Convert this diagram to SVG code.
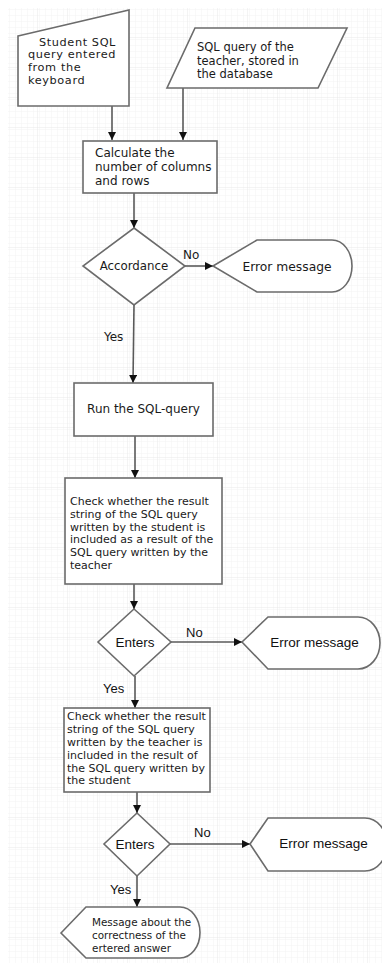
<svg xmlns="http://www.w3.org/2000/svg" width="382" height="963" viewBox="0 0 382 963">
  <defs>
    <pattern id="minor" width="6" height="6" patternUnits="userSpaceOnUse" x="8" y="8">
      <path d="M6 0V6M0 6H6" fill="none" stroke="#f3f3f3" stroke-width="1"/>
    </pattern>
    <pattern id="major" width="30" height="30" patternUnits="userSpaceOnUse" x="8" y="8">
      <rect width="30" height="30" fill="url(#minor)"/>
      <path d="M30 0V30M0 30H30" fill="none" stroke="#e9e9e9" stroke-width="1"/>
    </pattern>
    <marker id="arrow" viewBox="0 0 8 8" refX="8" refY="4" markerWidth="8" markerHeight="8" markerUnits="userSpaceOnUse" orient="auto">
      <path d="M0 0L8 4L0 8Z" fill="#111"/>
    </marker>
  </defs>
  <style>
    .shape { fill: #fff; stroke: #6b6b6b; stroke-width: 1.6; }
    .edge { fill: none; stroke: #5a5a5a; stroke-width: 1.6; marker-end: url(#arrow); }
    .v { font-family: "DejaVu Sans", Verdana, sans-serif; fill: #1a1a1a; }
    .a { font-family: "Liberation Sans", Arial, sans-serif; fill: #111; }
  </style>

  <rect width="382" height="963" fill="#fff"/>
  <rect x="8" y="8" width="374" height="955" fill="url(#major)"/>

  <!-- connectors -->
  <g id="connectors">
    <line class="edge" x1="112" y1="106" x2="112" y2="140"/>
    <line class="edge" x1="183" y1="88" x2="183" y2="140"/>
    <line class="edge" x1="134" y1="193" x2="134" y2="228"/>
    <line class="edge" x1="185" y1="266" x2="213" y2="266"/>
    <line class="edge" x1="134" y1="305" x2="133" y2="383"/>
    <line class="edge" x1="135" y1="436" x2="135" y2="478"/>
    <line class="edge" x1="134" y1="584" x2="134" y2="609"/>
    <line class="edge" x1="171" y1="642" x2="242" y2="642"/>
    <line class="edge" x1="135" y1="676" x2="135" y2="708"/>
    <line class="edge" x1="137" y1="792" x2="137" y2="813"/>
    <line class="edge" x1="170" y1="844" x2="250" y2="844"/>
    <line class="edge" x1="137" y1="876" x2="137" y2="907"/>
    <text class="v" x="183" y="259" font-size="12">No</text>
    <text class="v" x="104" y="341" font-size="12">Yes</text>
    <text class="a" x="186" y="637" font-size="13">No</text>
    <text class="a" x="103" y="693" font-size="13">Yes</text>
    <text class="a" x="194" y="837" font-size="13">No</text>
    <text class="a" x="110" y="894" font-size="13">Yes</text>
  </g>

  <g id="student-input">
    <polygon class="shape" points="18,36 129,10 129,106 18,106"/>
    <text class="v" font-size="11.3" letter-spacing="0.6">
      <tspan x="39" y="45.5">Student SQL</tspan>
      <tspan x="28" y="58.2">query entered</tspan>
      <tspan x="28" y="70.9">from the</tspan>
      <tspan x="28" y="83.6">keyboard</tspan>
    </text>
  </g>

  <g id="teacher-query">
    <polygon class="shape" points="195,28 347,28 318,88 167,88"/>
    <text class="v" font-size="11.5">
      <tspan x="197" y="51">SQL query of the</tspan>
      <tspan x="197" y="65">teacher, stored in</tspan>
      <tspan x="197" y="78">the database</tspan>
    </text>
  </g>

  <g id="count">
    <rect class="shape" x="83" y="141" width="134" height="52"/>
    <text class="v" font-size="12">
      <tspan x="95" y="157">Calculate the</tspan>
      <tspan x="95" y="171">number of columns</tspan>
      <tspan x="95" y="184.5">and rows</tspan>
    </text>
  </g>

  <g id="accordance">
    <polygon class="shape" points="134,228 185,266 134,305 83,266"/>
    <text class="v" x="134" y="270" font-size="11.8" text-anchor="middle">Accordance</text>
  </g>

  <g id="error-1">
    <path class="shape" d="M213,266 L257,240 L332,240 A20,26 0 0 1 332,292 L257,292 Z"/>
    <text class="v" x="287" y="270.5" font-size="12.3" text-anchor="middle">Error message</text>
  </g>

  <g id="run-query">
    <rect class="shape" x="74" y="383" width="139" height="53"/>
    <text class="v" x="143.5" y="413" font-size="12" text-anchor="middle">Run the SQL-query</text>
  </g>

  <g id="check-student">
    <rect class="shape" x="65" y="478" width="157" height="106"/>
    <text class="v" font-size="11">
      <tspan x="70" y="505">Check whether the result</tspan>
      <tspan x="70" y="518">string of the SQL query</tspan>
      <tspan x="70" y="530.5">written by the student is</tspan>
      <tspan x="70" y="543">included as a result of the</tspan>
      <tspan x="70" y="556">SQL query written by the</tspan>
      <tspan x="70" y="569">teacher</tspan>
    </text>
  </g>

  <g id="enters-1">
    <polygon class="shape" points="134,609 171,642 134,676 98,642"/>
    <text class="a" x="135" y="646.5" font-size="13.5" text-anchor="middle">Enters</text>
  </g>

  <g id="error-2">
    <path class="shape" d="M242,642 L268,617 L358,617 A22,26 0 0 1 358,669 L268,669 Z"/>
    <text class="a" x="314.5" y="647" font-size="13.5" text-anchor="middle">Error message</text>
  </g>

  <g id="check-teacher">
    <rect class="shape" x="64" y="708" width="146" height="84"/>
    <text class="v" font-size="11">
      <tspan x="67" y="720">Check whether the result</tspan>
      <tspan x="67" y="733">string of the SQL query</tspan>
      <tspan x="67" y="746">written by the teacher is</tspan>
      <tspan x="67" y="758.5">included in the result of</tspan>
      <tspan x="67" y="771.5">the SQL query written by</tspan>
      <tspan x="67" y="784">the student</tspan>
    </text>
  </g>

  <g id="enters-2">
    <polygon class="shape" points="137,813 170,844 137,876 104,844"/>
    <text class="a" x="135" y="849" font-size="13.5" text-anchor="middle">Enters</text>
  </g>

  <g id="error-3">
    <path class="shape" d="M250,844 L268,818 L365,818 A22,26.5 0 0 1 365,871 L268,871 Z"/>
    <text class="a" x="323.5" y="848" font-size="13.5" text-anchor="middle">Error message</text>
  </g>

  <g id="result-message">
    <path class="shape" d="M61,933 L86,907 L180,907 A20,25.5 0 0 1 180,958 L86,958 Z"/>
    <text class="v" font-size="10.4">
      <tspan x="92" y="926">Message about the</tspan>
      <tspan x="92" y="939">correctness of the</tspan>
      <tspan x="92" y="952">ertered answer</tspan>
    </text>
  </g>
</svg>
